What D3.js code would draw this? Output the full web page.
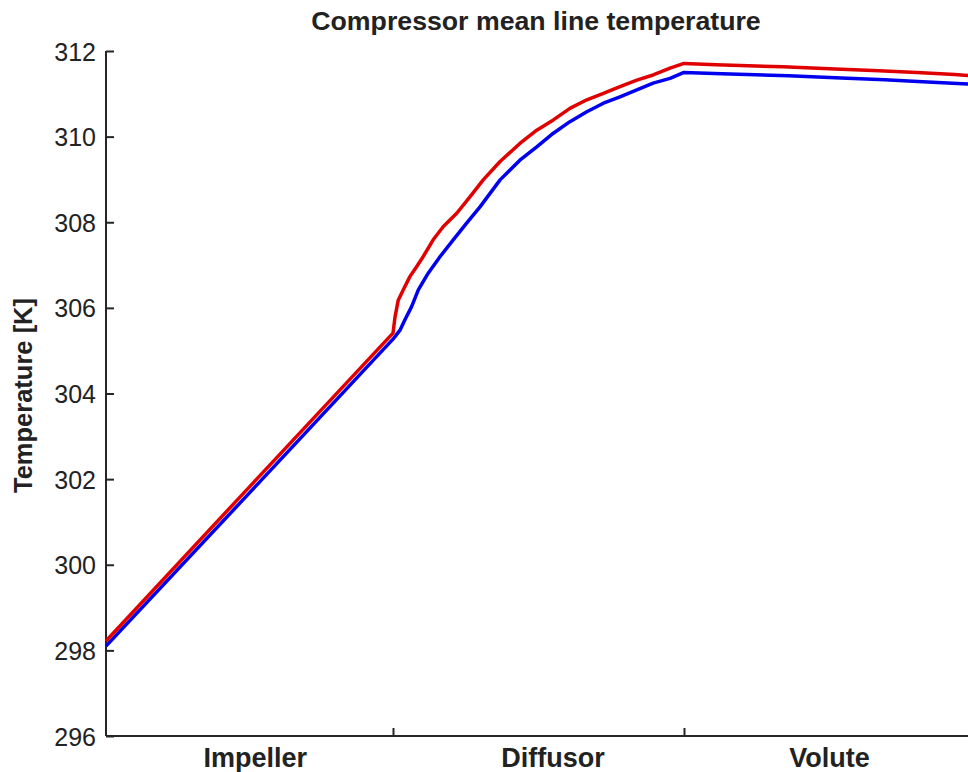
<!DOCTYPE html>
<html>
<head>
<meta charset="utf-8">
<script src="https://cdn.jsdelivr.net/npm/d3@7"></script>
<style>
  html, body { margin: 0; padding: 0; background: #fff; }
  svg { display: block; }
  text { font-family: "Liberation Sans", Arial, sans-serif; fill: #222; }
</style>
</head>
<body>
<svg id="chart" width="968" height="772"></svg>
<script>
// ---- data ----
const title = "Compressor mean line temperature";
const yLabel = "Temperature [K]";
const sections = ["Impeller", "Diffusor", "Volute"];
const sectionLabelPos = [0.52, 1.55, 2.5];
const sectionBounds = [0, 1, 2, 3];
const yTicks = [296, 298, 300, 302, 304, 306, 308, 310, 312];

// position along the mean line (0-1 impeller, 1-2 diffusor, 2-3 volute)
const redX = [0, 0.5, 1.0, 1.007, 1.018, 1.035, 1.058, 1.081, 1.104, 1.138, 1.173, 1.219, 1.265, 1.310, 1.368, 1.436, 1.494, 1.551, 1.608, 1.666, 1.723, 1.780, 1.838, 1.894, 1.952, 2.0, 2.11, 2.34, 2.52, 2.67, 2.80, 2.93, 3.0];
const redT = [298.22, 301.82, 305.41, 305.79, 306.18, 306.42, 306.73, 306.96, 307.20, 307.59, 307.90, 308.21, 308.60, 308.99, 309.42, 309.84, 310.15, 310.39, 310.66, 310.86, 311.01, 311.17, 311.32, 311.44, 311.60, 311.71, 311.68, 311.63, 311.58, 311.54, 311.50, 311.45, 311.42];

const blueX = [0, 0.5, 1.0, 1.007, 1.024, 1.041, 1.064, 1.087, 1.121, 1.162, 1.207, 1.253, 1.299, 1.368, 1.436, 1.494, 1.551, 1.608, 1.666, 1.723, 1.780, 1.838, 1.894, 1.952, 2.0, 2.13, 2.36, 2.54, 2.69, 2.82, 2.94, 3.0];
const blueT = [298.10, 301.68, 305.27, 305.33, 305.48, 305.72, 306.03, 306.42, 306.81, 307.20, 307.59, 307.98, 308.36, 308.99, 309.45, 309.76, 310.08, 310.35, 310.58, 310.78, 310.93, 311.09, 311.25, 311.36, 311.50, 311.47, 311.42, 311.37, 311.33, 311.28, 311.24, 311.22];

// ---- chart ----
const svg = d3.select("#chart");
const plotLeft = 106, plotTop = 51, plotBottom = 736;

const x = d3.scaleLinear().domain(sectionBounds).range([plotLeft, 393, 684, 975]);
const y = d3.scaleLinear().domain([296, 312]).range([plotBottom, plotTop]);

const axisColor = "#262626";

// y axis (ticks inward)
const yAxis = svg.append("g")
  .attr("transform", `translate(${plotLeft},0)`)
  .call(d3.axisRight(y).tickValues(yTicks).tickSize(8).tickFormat(d3.format("d")));
yAxis.select(".domain").attr("stroke", axisColor).attr("stroke-width", 2).attr("d", `M0,${plotTop}V${plotBottom}`);
yAxis.selectAll(".tick line").attr("stroke", axisColor).attr("stroke-width", 2);
yAxis.selectAll(".tick text")
  .attr("x", -10).attr("dy", "0.36em")
  .attr("text-anchor", "end")
  .style("font-size", "25px")
  .style("font-family", "'Liberation Sans', Arial, sans-serif")
  .attr("fill", "#222");

// x axis: boundaries as inward ticks
const xAxis = svg.append("g")
  .attr("transform", `translate(0,${plotBottom})`)
  .call(d3.axisTop(x).tickValues(sectionBounds.slice(1, 3)).tickSize(8).tickFormat(""));
xAxis.select(".domain").attr("stroke", axisColor).attr("stroke-width", 2).attr("d", `M${plotLeft},0H${x(3)}`);
xAxis.selectAll(".tick line").attr("stroke", axisColor).attr("stroke-width", 2);

// section labels
svg.append("g").selectAll("text")
  .data(sections)
  .join("text")
  .attr("x", (d, i) => x(sectionLabelPos[i]))
  .attr("y", 767)
  .attr("text-anchor", "middle")
  .style("font-size", "27px")
  .style("font-weight", "bold")
  .text(d => d);

// lines
const line = d3.line().x(d => x(d[0])).y(d => y(d[1]));
const redData = redX.map((v, i) => [v, redT[i]]);
const blueData = blueX.map((v, i) => [v, blueT[i]]);

svg.append("path").datum(blueData)
  .attr("fill", "none").attr("stroke", "#0000ee").attr("stroke-width", 3.5)
  .attr("stroke-linejoin", "round")
  .attr("d", line);
svg.append("path").datum(redData)
  .attr("fill", "none").attr("stroke", "#e00000").attr("stroke-width", 3.5)
  .attr("stroke-linejoin", "round")
  .attr("d", line);

// title
svg.append("text")
  .attr("x", 536).attr("y", 30)
  .attr("text-anchor", "middle")
  .style("font-size", "26.7px")
  .style("font-weight", "bold")
  .text(title);

// y label
svg.append("text")
  .attr("transform", `translate(32,${(plotTop + plotBottom) / 2 + 2}) rotate(-90)`)
  .attr("text-anchor", "middle")
  .style("font-size", "25.5px")
  .style("font-weight", "bold")
  .text(yLabel);
</script>
</body>
</html>
